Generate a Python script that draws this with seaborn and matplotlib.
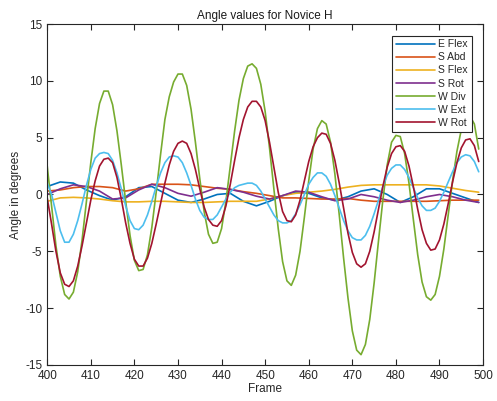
import matplotlib
matplotlib.use("Agg")
import matplotlib.pyplot as plt
import numpy as np
import pandas as pd
import seaborn as sns

# frames for the large wrist signals (every frame) and the small ones (every 3rd)
frames = list(range(400, 500))
frames_small = list(range(400, 500, 3))

w_div = [2.5, -1.0, -4.5, -7.2, -8.8, -9.2, -8.6, -6.8, -4.0, -0.6,
         2.8, 5.8, 8.0, 9.1, 9.1, 7.9, 5.6, 2.6, -0.6, -3.6,
         -5.8, -6.7, -6.6, -5.3, -2.9, 0.2, 3.5, 6.6, 8.6, 9.9,
         10.6, 10.6, 9.6, 7.5, 4.6, 1.4, -1.5, -3.5, -4.3, -4.2,
         -3.0, -0.6, 2.5, 5.6, 8.3, 10.2, 11.3, 11.5, 11.1, 9.7,
         7.3, 4.1, 0.5, -3.0, -5.9, -7.6, -8.0, -7.1, -5.0, -2.0,
         1.2, 4.0, 5.8, 6.5, 6.2, 4.6, 1.8, -1.8, -5.6, -9.1,
         -12.0, -13.7, -14.1, -13.2, -11.0, -7.8, -4.1, -0.5, 2.6, 4.6,
         5.2, 5.1, 3.6, 1.0, -2.2, -5.3, -7.7, -9.0, -9.3, -8.8,
         -7.2, -4.8, -1.8, 1.2, 3.8, 5.7, 6.7, 6.9, 6.2, 4.0]

w_rot = [-0.3, -2.6, -5.0, -6.9, -7.9, -8.1, -7.6, -6.3, -4.5, -2.5,
         -0.5, 1.2, 2.5, 3.1, 3.2, 2.8, 1.5, -0.4, -2.5, -4.3,
         -5.7, -6.3, -6.3, -5.6, -4.3, -2.6, -0.8, 1.0, 2.6, 3.8,
         4.5, 4.7, 4.5, 3.6, 2.2, 0.5, -1.1, -2.2, -2.7, -2.8,
         -2.3, -1.0, 0.9, 3.0, 5.0, 6.6, 7.7, 8.2, 8.2, 7.7,
         6.5, 4.6, 2.4, 0.2, -1.5, -2.3, -2.4, -1.8, -0.5, 1.2,
         2.9, 4.2, 5.0, 5.4, 5.3, 4.5, 3.0, 1.0, -1.2, -3.4,
         -5.1, -6.1, -6.4, -6.1, -5.0, -3.3, -1.3, 0.7, 2.4, 3.6,
         4.2, 4.3, 3.8, 2.5, 0.7, -1.3, -3.1, -4.3, -4.9, -4.8,
         -4.0, -2.6, -0.8, 1.1, 2.8, 4.1, 4.8, 4.9, 4.3, 2.9]

w_ext = [1.0, 0.0, -1.6, -3.2, -4.2, -4.2, -3.5, -2.3, -0.8, 0.8,
         2.2, 3.2, 3.6, 3.7, 3.6, 3.0, 1.9, 0.5, -1.0, -2.3,
         -3.0, -3.1, -2.7, -1.8, -0.6, 0.7, 1.9, 2.8, 3.3, 3.4,
         3.3, 2.8, 1.9, 0.8, -0.4, -1.4, -2.0, -2.2, -2.2, -1.8,
         -1.1, -0.4, 0.2, 0.6, 0.8, 0.9, 1.0, 1.0, 0.8, 0.3,
         -0.4, -1.1, -1.8, -2.3, -2.5, -2.5, -2.3, -1.7, -0.9, 0.0,
         0.9, 1.5, 1.9, 1.9, 1.6, 0.9, -0.1, -1.2, -2.3, -3.2,
         -3.8, -4.0, -4.0, -3.6, -2.8, -1.7, -0.5, 0.7, 1.7, 2.3,
         2.6, 2.6, 2.2, 1.5, 0.6, -0.3, -1.0, -1.4, -1.4, -1.2,
         -0.6, 0.2, 1.1, 2.0, 2.8, 3.3, 3.5, 3.4, 2.9, 2.0]

e_flex = [0.7, 1.1, 1.0, 0.4, -0.1, -0.5, -0.2, 0.6, 0.7, 0.1,
          -0.5, -0.7, -0.4, 0.0, 0.1, -0.6, -1.0, -0.6, -0.1, 0.2,
          0.1, -0.3, -0.5, -0.2, 0.3, 0.5, 0.0, -0.7, -0.2, 0.5,
          0.5, 0.1, -0.3, -0.7]

s_abd = [0.3, 0.4, 0.6, 0.7, 0.7, 0.6, 0.3, 0.5, 0.9, 0.9,
         0.9, 0.85, 0.7, 0.55, 0.45, 0.25, 0.1, -0.1, -0.3, -0.3,
         -0.35, -0.4, -0.4, -0.35, -0.5, -0.6, -0.6, -0.6, -0.6, -0.6,
         -0.55, -0.5, -0.5, -0.5]

s_flex = [-0.6, -0.3, -0.25, -0.3, -0.4, -0.55, -0.65, -0.65, -0.6, -0.6,
          -0.65, -0.7, -0.7, -0.65, -0.6, -0.6, -0.6, -0.4, -0.1, 0.1,
          0.2, 0.3, 0.45, 0.65, 0.8, 0.85, 0.85, 0.85, 0.85, 0.85,
          0.75, 0.55, 0.35, 0.2]

s_rot = [0.0, 0.5, 0.85, 0.7, 0.3, -0.4, -0.3, 0.4, 0.9, 0.6,
         0.1, -0.15, 0.2, 0.6, 0.45, 0.2, -0.15, -0.4, -0.1, 0.3,
         0.2, -0.2, -0.55, -0.4, 0.0, -0.2, -0.5, -0.7, -0.5, -0.2,
         0.0, -0.2, -0.5, -0.7]

labels = ["E Flex", "S Abd", "S Flex", "S Rot", "W Div", "W Ext", "W Rot"]
colors = ["#0072BD", "#D95319", "#EDB120", "#7E2F8E", "#77AC30", "#4DBEEE", "#A2142F"]

series = {
    "E Flex": (frames_small, e_flex),
    "S Abd": (frames_small, s_abd),
    "S Flex": (frames_small, s_flex),
    "S Rot": (frames_small, s_rot),
    "W Div": (frames, w_div),
    "W Ext": (frames, w_ext),
    "W Rot": (frames, w_rot),
}

parts = []
for name, (xs, ys) in series.items():
    parts.append(pd.DataFrame({"Frame": xs, "Angle": ys, "Joint": name}))
df = pd.concat(parts, ignore_index=True)

sns.set_style("ticks")
plt.rcParams["font.family"] = ["Liberation Sans", "DejaVu Sans"]
plt.rcParams["axes.unicode_minus"] = False

fig = plt.figure(figsize=(4.97, 4.01), dpi=100)
ax = fig.add_axes([0.095, 0.09, 0.877, 0.85])

sns.lineplot(data=df, x="Frame", y="Angle", hue="Joint", hue_order=labels,
             palette=colors, estimator=None, sort=True, linewidth=1.2, ax=ax)

ax.set_xlim(400, 500)
ax.set_ylim(-15, 15)
ax.set_xticks(range(400, 501, 10))
ax.set_yticks(range(-15, 16, 5))
ax.tick_params(direction="in", top=True, right=True, labelsize=8.5, length=4,
               width=0.8, color="#262626", labelcolor="#262626")
for sp in ax.spines.values():
    sp.set_visible(True)
    sp.set_color("#262626")
    sp.set_linewidth(0.8)

ax.set_title("Angle values for Novice H", fontsize=8.5, color="#1a1a1a", pad=4)
ax.set_xlabel("Frame", fontsize=8.5, color="#262626", labelpad=1)
ax.set_ylabel("Angle in degrees", fontsize=8.5, color="#262626", labelpad=2)

leg = ax.legend(loc="upper right", fontsize=7.5, frameon=True, fancybox=False,
                edgecolor="#262626", framealpha=1, handlelength=3.8,
                handletextpad=0.3, labelspacing=0.3, borderpad=0.35,
                borderaxespad=1.1)
leg.get_frame().set_linewidth(0.8)

fig.savefig("out.png", dpi=100)
